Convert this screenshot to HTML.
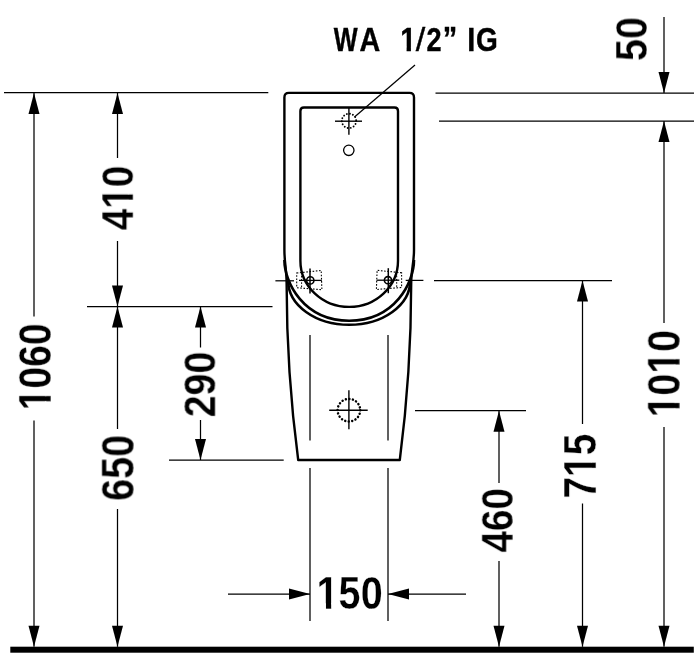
<!DOCTYPE html>
<html><head><meta charset="utf-8"><style>
html,body{margin:0;padding:0;background:#fff;}
svg{display:block;}
text{font-family:"Liberation Sans",sans-serif;font-weight:bold;fill:#000;}
</style></head><body>
<svg width="700" height="656" viewBox="0 0 700 656">
<defs>
<clipPath id="c1"><rect x="-30" y="-150" width="120" height="138"/><rect x="23.64" y="-20" width="13.12" height="30"/></clipPath>
<clipPath id="c1b"><rect x="-30" y="-150" width="120" height="138"/><rect x="22.7" y="-20" width="15" height="30"/></clipPath>
</defs>
<rect width="700" height="656" fill="#fff"/>
<g stroke="#000" fill="#000">
<rect x="10.3" y="646.7" width="683.5" height="6" stroke="none"/>
<line x1="4" y1="92.7" x2="268.3" y2="92.7" stroke-width="1.25"/>
<line x1="435.5" y1="93" x2="694" y2="93" stroke-width="1.25"/>
<line x1="439" y1="121.2" x2="694" y2="121.2" stroke-width="1.25"/>
<line x1="87" y1="306.5" x2="272.5" y2="306.5" stroke-width="1.25"/>
<line x1="169" y1="460" x2="283.7" y2="460" stroke-width="1.25"/>
<line x1="434" y1="280.5" x2="612" y2="280.5" stroke-width="1.25"/>
<line x1="415" y1="410.7" x2="526" y2="410.7" stroke-width="1.25"/>
<line x1="310" y1="468" x2="310" y2="621" stroke-width="1.25"/>
<line x1="388" y1="468" x2="388" y2="621" stroke-width="1.25"/>
<line x1="34" y1="93" x2="34" y2="316.6" stroke-width="1.25"/>
<line x1="34" y1="420.5" x2="34" y2="646.8" stroke-width="1.25"/>
<polygon points="34.00,93.00 28.50,114.00 39.50,114.00" stroke="none"/>
<polygon points="34.00,646.80 28.50,625.80 39.50,625.80" stroke="none"/>
<line x1="117.5" y1="93" x2="117.5" y2="158" stroke-width="1.25"/>
<line x1="117.5" y1="241" x2="117.5" y2="306.5" stroke-width="1.25"/>
<polygon points="117.50,93.00 112.00,114.00 123.00,114.00" stroke="none"/>
<polygon points="117.50,306.50 112.00,285.50 123.00,285.50" stroke="none"/>
<line x1="117.5" y1="306.5" x2="117.5" y2="429" stroke-width="1.25"/>
<line x1="117.5" y1="509" x2="117.5" y2="646.8" stroke-width="1.25"/>
<polygon points="117.50,306.50 112.00,327.50 123.00,327.50" stroke="none"/>
<polygon points="117.50,646.80 112.00,625.80 123.00,625.80" stroke="none"/>
<line x1="200.5" y1="306.5" x2="200.5" y2="347.5" stroke-width="1.25"/>
<line x1="200.5" y1="420" x2="200.5" y2="460" stroke-width="1.25"/>
<polygon points="200.50,306.50 195.00,327.50 206.00,327.50" stroke="none"/>
<polygon points="200.50,460.00 195.00,439.00 206.00,439.00" stroke="none"/>
<line x1="664" y1="17" x2="664" y2="93" stroke-width="1.25"/>
<polygon points="664.00,93.00 658.50,72.00 669.50,72.00" stroke="none"/>
<line x1="664" y1="121" x2="664" y2="323" stroke-width="1.25"/>
<line x1="664" y1="427" x2="664" y2="646.8" stroke-width="1.25"/>
<polygon points="664.00,121.00 658.50,142.00 669.50,142.00" stroke="none"/>
<polygon points="664.00,646.80 658.50,625.80 669.50,625.80" stroke="none"/>
<line x1="582.5" y1="280.5" x2="582.5" y2="424" stroke-width="1.25"/>
<line x1="582.5" y1="503.5" x2="582.5" y2="646.8" stroke-width="1.25"/>
<polygon points="582.50,280.50 577.00,301.50 588.00,301.50" stroke="none"/>
<polygon points="582.50,646.80 577.00,625.80 588.00,625.80" stroke="none"/>
<line x1="499" y1="410.7" x2="499" y2="483" stroke-width="1.25"/>
<line x1="499" y1="561" x2="499" y2="646.8" stroke-width="1.25"/>
<polygon points="499.00,410.70 493.50,431.70 504.50,431.70" stroke="none"/>
<polygon points="499.00,646.80 493.50,625.80 504.50,625.80" stroke="none"/>
<line x1="228" y1="594" x2="310" y2="594" stroke-width="1.25"/>
<polygon points="310.00,594.00 289.00,588.50 289.00,599.50" stroke="none"/>
<line x1="388" y1="594" x2="466" y2="594" stroke-width="1.25"/>
<polygon points="388.00,594.00 409.00,588.50 409.00,599.50" stroke="none"/>
<line x1="354.5" y1="117" x2="415" y2="65" stroke-width="1.25"/>
<line x1="310" y1="335" x2="310" y2="440.5" stroke-width="1.25"/>
<line x1="388" y1="335" x2="388" y2="440.5" stroke-width="1.25"/>
<line x1="329.2" y1="410.2" x2="367.7" y2="410.2" stroke-width="1.4"/>
<line x1="348.9" y1="390.3" x2="348.9" y2="429.2" stroke-width="1.4"/>
<line x1="335" y1="121.2" x2="362" y2="121.2" stroke-width="1.4"/>
<line x1="348.9" y1="108" x2="348.9" y2="134.8" stroke-width="1.4"/>
<line x1="275.4" y1="280.8" x2="294" y2="280.8" stroke-width="1.25"/>
<line x1="405.7" y1="280.4" x2="423.4" y2="280.4" stroke-width="1.25"/>
</g>
<g fill="none" stroke="#000">
<path d="M298.2,460 Q286.6,372.5 286.6,283 C286.6,270 284.4,263 284.4,250 L284.4,97.4 Q284.4,92.9 288.9,92.9 L409.5,92.9 Q414.0,92.9 414.0,97.4 L414.0,250 C414,263 411.2,270 411.2,283 Q411.2,372.5 399.8,460 Z" stroke-width="2.4" stroke-linejoin="round"/>
<path d="M284.4,260 C284.4,282 303.2,320.8 349.2,320.8 C395.2,320.8 414,282 414,260" stroke-width="2.6"/>
<path d="M288.2,281 A61,43.8 0 0 0 410.2,281" stroke-width="2.6"/>
<path d="M300.4,260.7 L300.4,111.0 Q300.4,107.5 303.9,107.5 L394.5,107.5 Q398.0,107.5 398.0,111.0 L398.0,260.7 A48.8,46.2 0 0 1 300.4,260.7 Z" stroke-width="2.4"/>
<circle cx="348.9" cy="410.2" r="11.3" stroke-width="2.5" stroke-linecap="round" stroke-dasharray="0.01,3.55"/>
<circle cx="349" cy="120.9" r="7.2" stroke-width="1.9" stroke-linecap="round" stroke-dasharray="0.01,3.14"/>
<circle cx="348.8" cy="150.3" r="5.2" stroke-width="1.3"/>
<path d="M296.7,273.0 L321.2,270.5 L321.9,289.7 L296.7,287.7 Z" stroke-width="1.1" stroke-dasharray="1.6,1.6"/>
<line x1="301.6" y1="275.9" x2="301.6" y2="287.4" stroke-width="1" stroke-dasharray="1.6,1.6"/>
<line x1="310" y1="268.4" x2="310" y2="293.4" stroke-width="1.5"/>
<line x1="299" y1="280.4" x2="321.8" y2="280.4" stroke-width="1.3"/>
<circle cx="310.3" cy="280.4" r="3.6" stroke-width="1.6"/>
<path d="M401.6,272.8 L377.1,270.3 L376.4,289.5 L401.6,287.5 Z" stroke-width="1.1" stroke-dasharray="1.6,1.6"/>
<line x1="396.7" y1="275.7" x2="396.7" y2="287.2" stroke-width="1" stroke-dasharray="1.6,1.6"/>
<line x1="388.3" y1="268.2" x2="388.3" y2="293.2" stroke-width="1.5"/>
<line x1="399.3" y1="280.2" x2="376.5" y2="280.2" stroke-width="1.3"/>
<circle cx="388.0" cy="280.2" r="3.6" stroke-width="1.6"/>
</g>
<g fill="#000" style="will-change:transform">
<g transform="translate(647.08,61.11) rotate(-90) scale(0.3965,0.4517)"><text transform="translate(0.0,0)" font-size="100" stroke="#fff" stroke-width="0.6">5</text><text transform="translate(55.62,0)" font-size="100" stroke="#fff" stroke-width="0.6">0</text></g>
<g transform="translate(133.28,230.39) rotate(-90) scale(0.3884,0.4517)"><text transform="translate(0.0,0)" font-size="100" stroke="#fff" stroke-width="0.6">4</text><text transform="translate(55.62,0)" font-size="100" stroke="#fff" stroke-width="0.6" clip-path="url(#c1)">1</text><text transform="translate(111.23,0)" font-size="100" stroke="#fff" stroke-width="0.6">0</text></g>
<g transform="translate(50.48,410.46) rotate(-90) scale(0.3912,0.4574)"><text transform="translate(0.0,0)" font-size="100" stroke="#fff" stroke-width="0.6" clip-path="url(#c1)">1</text><text transform="translate(55.62,0)" font-size="100" stroke="#fff" stroke-width="0.6">0</text><text transform="translate(111.23,0)" font-size="100" stroke="#fff" stroke-width="0.6">6</text><text transform="translate(166.85,0)" font-size="100" stroke="#fff" stroke-width="0.6">0</text></g>
<g transform="translate(215.28,417.40) rotate(-90) scale(0.3946,0.4503)"><text transform="translate(0.0,0)" font-size="100" stroke="#fff" stroke-width="0.6">2</text><text transform="translate(55.62,0)" font-size="100" stroke="#fff" stroke-width="0.6">9</text><text transform="translate(111.23,0)" font-size="100" stroke="#fff" stroke-width="0.6">0</text></g>
<g transform="translate(133.88,501.00) rotate(-90) scale(0.3965,0.4531)"><text transform="translate(0.0,0)" font-size="100" stroke="#fff" stroke-width="0.6">6</text><text transform="translate(55.62,0)" font-size="100" stroke="#fff" stroke-width="0.6">5</text><text transform="translate(111.23,0)" font-size="100" stroke="#fff" stroke-width="0.6">0</text></g>
<g transform="translate(679.68,417.48) rotate(-90) scale(0.3936,0.4545)"><text transform="translate(0.0,0)" font-size="100" stroke="#fff" stroke-width="0.6" clip-path="url(#c1)">1</text><text transform="translate(55.62,0)" font-size="100" stroke="#fff" stroke-width="0.6">0</text><text transform="translate(111.23,0)" font-size="100" stroke="#fff" stroke-width="0.6" clip-path="url(#c1)">1</text><text transform="translate(166.85,0)" font-size="100" stroke="#fff" stroke-width="0.6">0</text></g>
<g transform="translate(596.48,498.67) rotate(-90) scale(0.3890,0.4553)"><text transform="translate(0.0,0)" font-size="100" stroke="#fff" stroke-width="0.6">7</text><text transform="translate(55.62,0)" font-size="100" stroke="#fff" stroke-width="0.6" clip-path="url(#c1)">1</text><text transform="translate(111.23,0)" font-size="100" stroke="#fff" stroke-width="0.6">5</text></g>
<g transform="translate(512.49,552.69) rotate(-90) scale(0.3865,0.4361)"><text transform="translate(0.0,0)" font-size="100" stroke="#fff" stroke-width="0.6">4</text><text transform="translate(55.62,0)" font-size="100" stroke="#fff" stroke-width="0.6">6</text><text transform="translate(111.23,0)" font-size="100" stroke="#fff" stroke-width="0.6">0</text></g>
<g transform="translate(316.61,608.78) scale(0.3958,0.4545)"><text transform="translate(0.0,0)" font-size="100" stroke="#fff" stroke-width="0.6" clip-path="url(#c1)">1</text><text transform="translate(55.62,0)" font-size="100" stroke="#fff" stroke-width="0.6">5</text><text transform="translate(111.23,0)" font-size="100" stroke="#fff" stroke-width="0.6">0</text></g>
<text transform="translate(333.85,50.90) scale(0.2532,0.3362)" font-size="100" style="font-weight:bold" stroke="#000" stroke-width="1.2">W</text>
<text transform="translate(359.61,51.24) scale(0.2872,0.3410)" font-size="100" style="font-weight:bold" stroke="#000" stroke-width="1.2">A</text>
<text transform="translate(400.13,50.90) scale(0.2857,0.3362)" font-size="100" style="font-weight:bold" stroke="#000" stroke-width="1.2" clip-path="url(#c1b)">1</text>
<text transform="translate(415.81,51.20) scale(0.3425,0.3261)" font-size="100" style="font-weight:normal" stroke="#000" stroke-width="1.2">/</text>
<text transform="translate(426.45,50.90) scale(0.2709,0.3315)" font-size="100" style="font-weight:bold" stroke="#000" stroke-width="1.2">2</text>
<text transform="translate(442.75,49.74) scale(0.2901,0.3253)" font-size="100" style="font-weight:bold" stroke="#000" stroke-width="1.2">”</text>
<text transform="translate(467.15,50.90) scale(0.2895,0.3362)" font-size="100" style="font-weight:bold" stroke="#000" stroke-width="1.2">I</text>
<text transform="translate(476.05,50.86) scale(0.2803,0.3352)" font-size="100" style="font-weight:bold" stroke="#000" stroke-width="1.2">G</text>
</g>
</svg>
</body></html>
